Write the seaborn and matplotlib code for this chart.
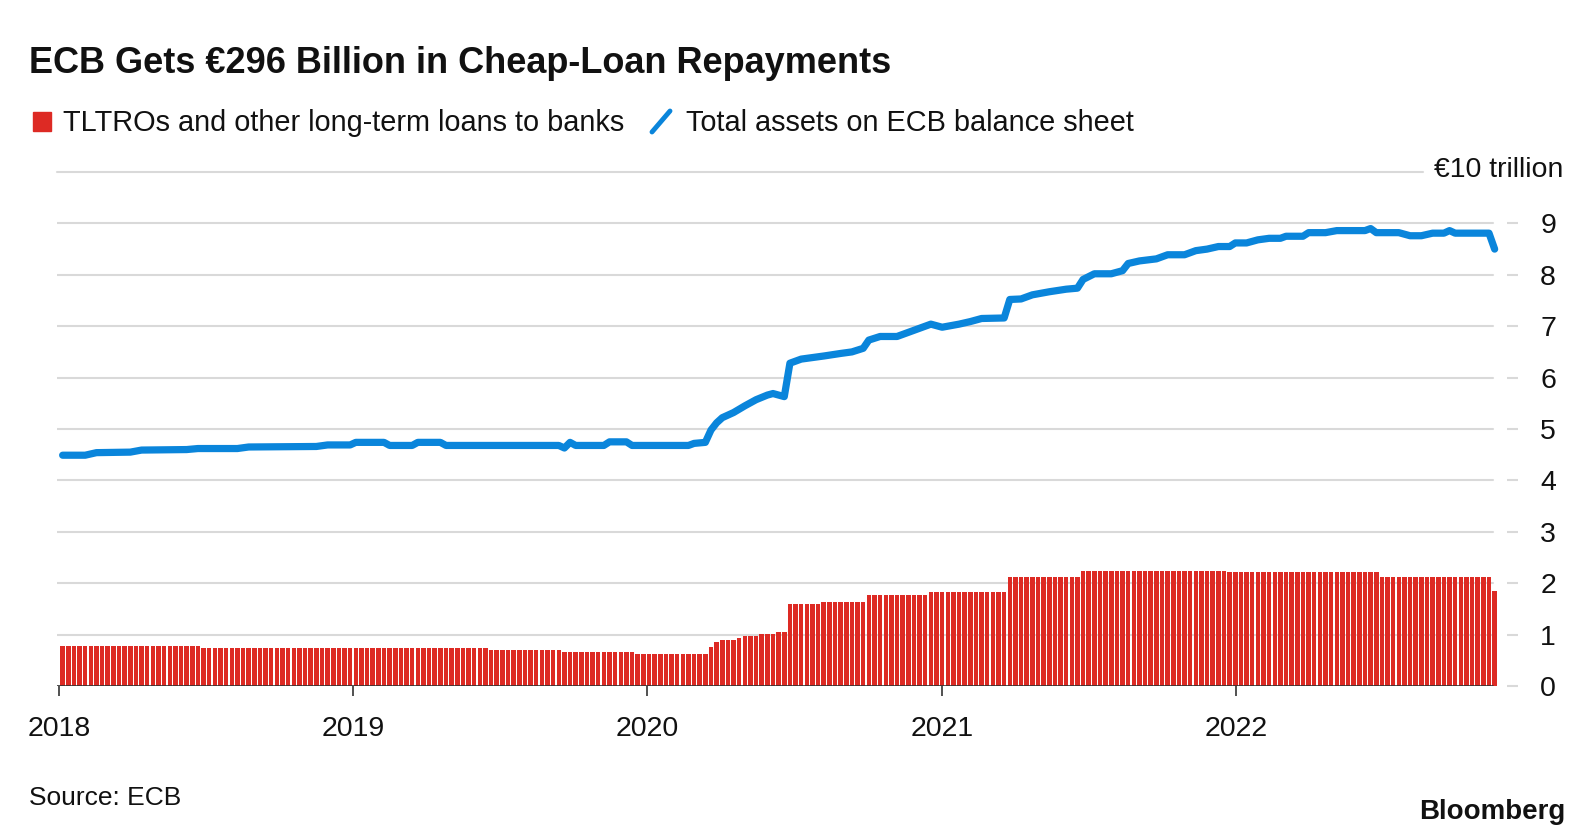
import matplotlib
matplotlib.use("Agg")
import matplotlib.pyplot as plt
import matplotlib.dates as mdates
from matplotlib.lines import Line2D
from matplotlib.patches import Rectangle
import pandas as pd
import seaborn as sns

# --- data (EUR trillion) -----------------------------------------------------

# TLTROs & other long-term loans: weekly bars, level changes on these Fridays
loan_starts = [
    "2018-01-05", "2018-06-29", "2019-06-21", "2019-09-20", "2019-12-20",
    "2020-03-20", "2020-03-27", "2020-04-03", "2020-04-24", "2020-05-01",
    "2020-05-22", "2020-06-12", "2020-06-26", "2020-08-07", "2020-10-02",
    "2020-12-18", "2021-03-26", "2021-06-25", "2021-12-24", "2022-07-01",
    "2022-11-18",
]
loan_levels = [
    0.78, 0.74, 0.70, 0.66, 0.62,
    0.75, 0.86, 0.90, 0.94, 0.98,
    1.02, 1.06, 1.59, 1.63, 1.78,
    1.82, 2.13, 2.24, 2.21, 2.12,
    1.84,
]
first_week = "2018-01-05"
last_week = "2022-11-18"

# Total assets on the ECB balance sheet
asset_dates = [
    "2018-01-05", "2018-02-02", "2018-02-16", "2018-03-30", "2018-04-13",
    "2018-06-08", "2018-06-22", "2018-08-10", "2018-08-24", "2018-11-16",
    "2018-11-30", "2018-12-28", "2019-01-04", "2019-02-08", "2019-02-15",
    "2019-03-15", "2019-03-22", "2019-04-19", "2019-04-26", "2019-09-13",
    "2019-09-20", "2019-09-27", "2019-10-04", "2019-11-08", "2019-11-15",
    "2019-12-06", "2019-12-13", "2020-02-21", "2020-02-28", "2020-03-13",
    "2020-03-20", "2020-03-27", "2020-04-03", "2020-04-17", "2020-05-01",
    "2020-05-15", "2020-05-29", "2020-06-05", "2020-06-19", "2020-06-26",
    "2020-07-10", "2020-08-07", "2020-08-28", "2020-09-11", "2020-09-25",
    "2020-10-02", "2020-10-16", "2020-11-06", "2020-11-20", "2020-12-04",
    "2020-12-18", "2021-01-01", "2021-01-22", "2021-02-05", "2021-02-19",
    "2021-03-19", "2021-03-26", "2021-04-09", "2021-04-23", "2021-05-14",
    "2021-06-04", "2021-06-18", "2021-06-25", "2021-07-09", "2021-07-30",
    "2021-08-13", "2021-08-20", "2021-09-03", "2021-09-24", "2021-10-08",
    "2021-10-29", "2021-11-12", "2021-11-26", "2021-12-10", "2021-12-24",
    "2021-12-31", "2022-01-14", "2022-01-28", "2022-02-11", "2022-02-25",
    "2022-03-04", "2022-03-25", "2022-04-01", "2022-04-22", "2022-05-06",
    "2022-06-10", "2022-06-17", "2022-06-24", "2022-07-22", "2022-08-05",
    "2022-08-19", "2022-09-02", "2022-09-16", "2022-09-23", "2022-09-30",
    "2022-11-11", "2022-11-18",
]
asset_values = [
    4.49, 4.49, 4.54, 4.55, 4.59,
    4.60, 4.62, 4.62, 4.65, 4.66,
    4.69, 4.69, 4.74, 4.74, 4.68,
    4.68, 4.74, 4.74, 4.68, 4.68,
    4.63, 4.74, 4.68, 4.68, 4.75,
    4.75, 4.68, 4.68, 4.72, 4.74,
    4.98, 5.12, 5.22, 5.32, 5.45,
    5.57, 5.66, 5.69, 5.63, 6.28,
    6.36, 6.42, 6.47, 6.50, 6.57,
    6.73, 6.80, 6.80, 6.88, 6.96,
    7.04, 6.98, 7.04, 7.09, 7.15,
    7.16, 7.52, 7.53, 7.61, 7.67,
    7.72, 7.74, 7.91, 8.02, 8.02,
    8.08, 8.22, 8.27, 8.31, 8.39,
    8.39, 8.47, 8.50, 8.55, 8.55,
    8.62, 8.62, 8.68, 8.71, 8.71,
    8.75, 8.75, 8.82, 8.82, 8.86,
    8.86, 8.90, 8.82, 8.82, 8.76,
    8.76, 8.81, 8.81, 8.86, 8.81,
    8.81, 8.50,
]

y_ticks = list(range(10))

TITLE = "ECB Gets €296 Billion in Cheap-Loan Repayments"
LABEL_LOANS = "TLTROs and other long-term loans to banks"
LABEL_ASSETS = "Total assets on ECB balance sheet"
UNIT = "€10 trillion"
SOURCE = "Source: ECB"

RED = "#dd2a24"
BLUE = "#0a85db"
GRID = "#d9d9d9"
INK = "#111111"

W, H = 1592, 836


def fx(px):
    return px / W


def fy(py):
    return 1 - py / H


# --- build -------------------------------------------------------------------

weeks = pd.date_range(first_week, last_week, freq="W-FRI")
loans = (pd.Series(loan_levels, index=pd.to_datetime(loan_starts))
         .reindex(weeks, method="ffill"))
assets = pd.DataFrame({"date": pd.to_datetime(asset_dates), "value": asset_values})

sns.set_theme(style="white")
plt.rcParams["font.family"] = ["Liberation Sans", "DejaVu Sans"]

fig = plt.figure(figsize=(W / 100, H / 100), dpi=100)
ax = fig.add_axes([fx(57), fy(686), (1518 - 57) / W, (686 - 172) / H])

ax.bar(loans.index, loans.values, width=5.6, color=RED, linewidth=0, zorder=2)

sns.lineplot(data=assets, x="date", y="value", color=BLUE, linewidth=5.2,
             estimator=None, ax=ax, zorder=4)
ax.lines[-1].set_solid_joinstyle("round")
ax.lines[-1].set_solid_capstyle("round")

grid_end = (1493 - 57) / (1518 - 57)
for v in range(1, 10):
    ax.axhline(v, xmax=grid_end, color=GRID, linewidth=1.5, zorder=1)
ax.axhline(10, xmax=(1423 - 57) / (1518 - 57), color=GRID, linewidth=1.5,
           zorder=1, clip_on=False)
ax.axhline(0, xmax=grid_end, color="#333333", linewidth=1.2, zorder=3)

ax.set_xlim(pd.Timestamp("2017-12-29"), pd.Timestamp("2022-12-17"))
ax.set_ylim(0, 10)
for s in ax.spines.values():
    s.set_visible(False)

ax.yaxis.tick_right()
ax.set_yticks(y_ticks)
ax.set_yticklabels([str(t) for t in y_ticks])
ax.tick_params(axis="y", direction="in", length=8, width=1.5, color=GRID,
               pad=16, labelsize=20.5, labelcolor=INK)

ax.xaxis.set_major_locator(mdates.YearLocator())
ax.xaxis.set_major_formatter(mdates.DateFormatter("%Y"))
ax.tick_params(axis="x", direction="out", length=7.5, width=1.2,
               color="#333333", pad=14, labelsize=20.5, labelcolor=INK,
               bottom=True)
ax.set_xlabel("")
ax.set_ylabel("")
ax.grid(False)

# --- header, legend, footer --------------------------------------------------

fig.text(fx(29), fy(73), TITLE, fontsize=26, fontweight="bold",
         color=INK, va="baseline")

fig.patches.append(Rectangle((fx(33), fy(131)), 18 / W, 19 / H,
                             transform=fig.transFigure, color=RED))
fig.text(fx(63), fy(131), LABEL_LOANS, fontsize=20.8, color=INK, va="baseline")
fig.lines.append(Line2D([fx(652), fx(670)], [fy(132), fy(111)],
                        transform=fig.transFigure, color=BLUE, linewidth=3.5))
fig.text(fx(686), fy(131), LABEL_ASSETS, fontsize=20.8, color=INK, va="baseline")

fig.text(fx(1563), fy(177), UNIT, fontsize=20.5, color=INK,
         ha="right", va="baseline")

fig.text(fx(29), fy(805), SOURCE, fontsize=19, color=INK, va="baseline")
fig.text(fx(1565), fy(819), "Bloomberg", fontsize=20, fontweight="bold",
         color=INK, ha="right", va="baseline")

fig.savefig("out.png", dpi=100, facecolor="white")
